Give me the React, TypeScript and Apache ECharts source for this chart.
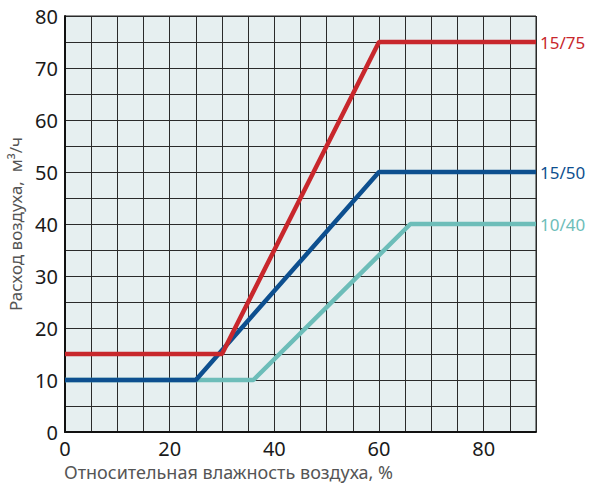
import React, { useEffect, useRef } from "react";
import * as echarts from "echarts";

const seriesNames = ["10/40", "15/50", "15/75"];
const series1040: [number, number][] = [[0, 10], [36, 10], [66, 40], [90, 40]];
const series1550: [number, number][] = [[0, 10], [25, 10], [60, 50], [90, 50]];
const series1575: [number, number][] = [[0, 15], [30, 15], [60, 75], [90, 75]];
const colors = ["#6dbdb9", "#0d4f8f", "#c8272c"];
const xAxisTitle = "Относительная влажность воздуха, %";
const yAxisTitle = "Расход воздуха,  м³/ч";

const FONT = "'Noto Sans', 'Open Sans', sans-serif";

export default function App() {
  const ref = useRef<HTMLDivElement>(null);
  useEffect(() => {
    document.body.style.margin = "0";
    if (!ref.current) return;
    const chart = echarts.init(ref.current, undefined, { renderer: "svg" });
    const datas = [series1040, series1550, series1575];
    chart.setOption({
      animation: false,
      textStyle: { fontFamily: FONT },
      grid: {
        left: 65,
        top: 16,
        right: 54,
        bottom: 58,
        outerBoundsMode: "none",
        containLabel: false,
        show: true,
        backgroundColor: "#e6eff0",
        borderColor: "#222",
        borderWidth: 1,
      },
      xAxis: {
        type: "value",
        min: 0,
        max: 90,
        interval: 5,
        axisLine: { show: true, lineStyle: { color: "#111", width: 2 } },
        axisTick: { show: false },
        axisLabel: {
          formatter: (v: number) => (v % 20 === 0 ? String(v) : ""),
          fontSize: 20,
          color: "#1a1a1a",
          margin: 6,
          fontFamily: FONT,
        },
        splitLine: { show: true, lineStyle: { color: "#2a2a2a", width: 1 } },
      },
      yAxis: {
        type: "value",
        min: 0,
        max: 80,
        interval: 5,
        name: yAxisTitle,
        nameLocation: "middle",
        nameGap: 36,
        nameTextStyle: { fontSize: 17, color: "#555", fontFamily: FONT },
        axisLine: { show: true, lineStyle: { color: "#111", width: 2 } },
        axisTick: { show: false },
        axisLabel: {
          formatter: (v: number) => (v % 10 === 0 ? String(v) : ""),
          fontSize: 20,
          color: "#1a1a1a",
          margin: 7,
          fontFamily: FONT,
        },
        splitLine: { show: true, lineStyle: { color: "#2a2a2a", width: 1 } },
      },
      graphic: [
        {
          type: "text",
          left: 64,
          top: 463,
          style: { text: xAxisTitle, fontSize: 18, fill: "#555", fontFamily: FONT },
        },
      ],
      series: datas.map((d, i) => ({
        type: "line",
        name: seriesNames[i],
        data: d,
        symbol: "none",
        z: 2 + i,
        lineStyle: { color: colors[i], width: 4.5 },
        endLabel: {
          show: true,
          formatter: seriesNames[i],
          color: colors[i],
          fontSize: 17,
          distance: 4,
          fontFamily: FONT,
        },
      })),
    });
    return () => chart.dispose();
  }, []);
  return <div ref={ref} style={{ width: 590, height: 490 }} />;
}
